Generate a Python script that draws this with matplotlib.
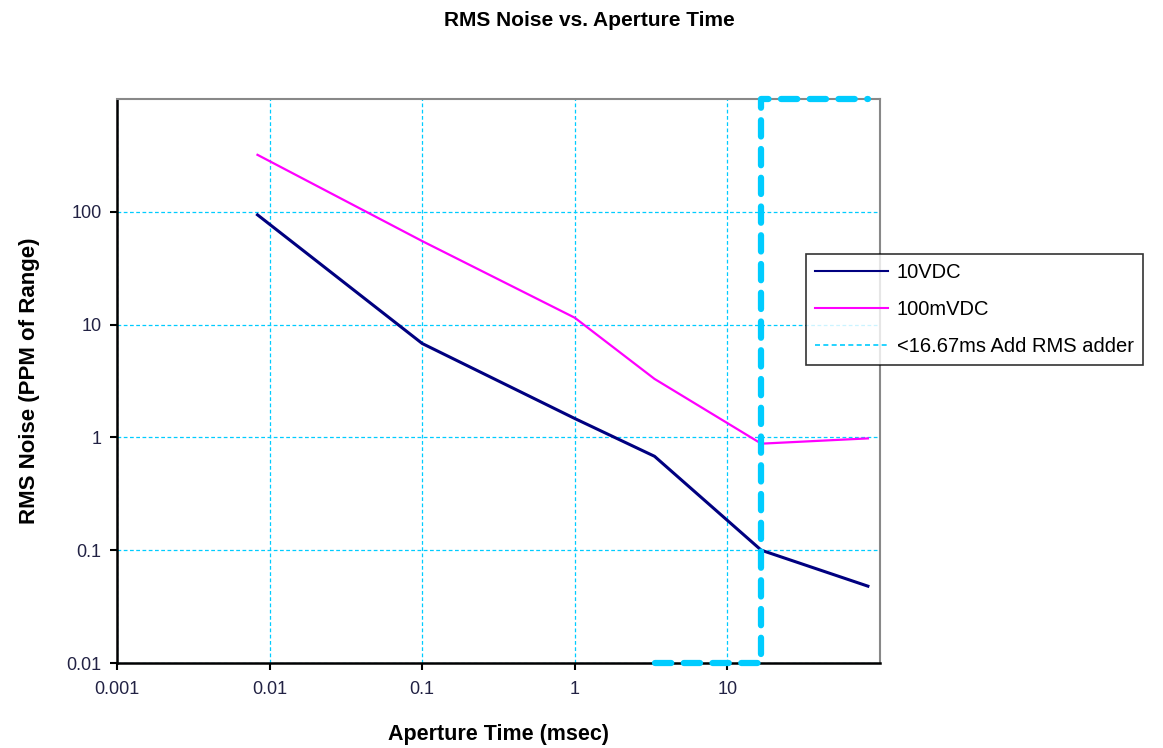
import matplotlib.pyplot as plt
from matplotlib.lines import Line2D
import numpy as np

plt.rcParams['font.family'] = ['Liberation Sans', 'DejaVu Sans']

# aperture times (msec)
aperture = [0.00833, 0.1, 1, 3.33, 16.67, 83.3]
noise_10vdc = [94, 6.8, 1.47, 0.68, 0.1, 0.048]
noise_100mvdc = [320, 55, 11.5, 3.3, 0.88, 0.98]

# step marking the 16.67 ms boundary
adder_x = [3.33, 16.67, 16.67, 83.3]
adder_y = [0.01, 0.01, 1000, 1000]

xticks = [0.001, 0.01, 0.1, 1, 10]
xtick_labels = ["0.001", "0.01", "0.1", "1", "10"]
yticks = [0.01, 0.1, 1, 10, 100]
ytick_labels = ["0.01", "0.1", "1", "10", "100"]

navy = "#000080"
magenta = "#FF00FF"
cyan = "#00CCFF"

fig = plt.figure(figsize=(11.63, 7.48), dpi=100)
ax = fig.add_axes([117 / 1163, 1 - 663 / 748, (880 - 117) / 1163, (663 - 99) / 748])

ax.set_xscale("log")
ax.set_yscale("log")
ax.set_xlim(0.001, 100)
ax.set_ylim(0.01, 1000)

ax.set_xticks(xticks)
ax.set_xticklabels(xtick_labels)
ax.set_yticks(yticks)
ax.set_yticklabels(ytick_labels)
ax.minorticks_off()
ax.tick_params(direction="out", length=5, width=1.5, labelsize=13, pad=6,
               labelcolor="#222244")
ax.tick_params(axis="x", pad=8)

ax.grid(True, color=cyan, linestyle=(0, (3, 2)), linewidth=0.9)
ax.set_axisbelow(True)

ax.plot(aperture, noise_10vdc, color=navy, linewidth=2.2, zorder=3)
ax.plot(aperture, noise_100mvdc, color=magenta, linewidth=1.6, zorder=3)
ax.plot(adder_x, adder_y, color=cyan, linewidth=4.5, linestyle=(0, (2.6, 2.0)),
        dash_capstyle="round", clip_on=False, zorder=4)

for side in ["left", "bottom"]:
    ax.spines[side].set_color("black")
    ax.spines[side].set_linewidth(1.8)
for side in ["top", "right"]:
    ax.spines[side].set_color("#888888")
    ax.spines[side].set_linewidth(1.5)

ax.set_xlabel("Aperture Time (msec)", fontsize=15.5, fontweight="bold", labelpad=19)
ax.set_ylabel("RMS Noise (PPM of Range)", fontsize=16, fontweight="bold", labelpad=19)
fig.text(0.5 * (440 + 738) / 1163, 1 - 20 / 748, "RMS Noise vs. Aperture Time",
         ha="center", va="center", fontsize=15, fontweight="bold")

handles = [
    Line2D([], [], color=navy, linewidth=1.5),
    Line2D([], [], color=magenta, linewidth=1.5),
    Line2D([], [], color=cyan, linewidth=1.2, linestyle=(0, (3, 2))),
]
labels = ["10VDC", "100mVDC", "<16.67ms Add RMS adder"]
leg = fig.legend(handles, labels, loc="upper left",
                 bbox_to_anchor=(806 / 1163, 1 - 254 / 748),
                 fontsize=14.5, frameon=True, fancybox=False, shadow=False,
                 handlelength=3.6, labelspacing=0.9, borderpad=0.45,
                 handletextpad=0.45, borderaxespad=0)
leg.get_frame().set_edgecolor("black")
leg.get_frame().set_linewidth(1.2)

fig.savefig("out.png", dpi=100)
